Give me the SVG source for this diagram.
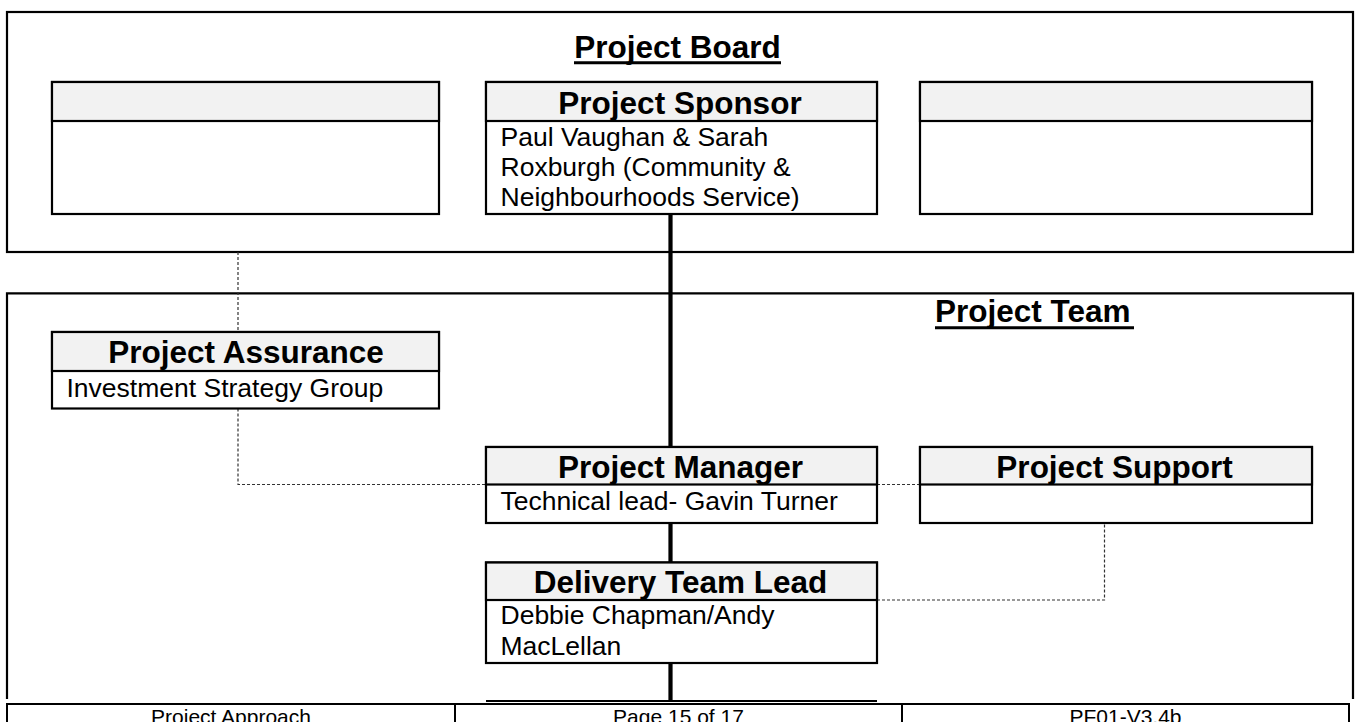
<svg xmlns="http://www.w3.org/2000/svg" width="1357" height="722" viewBox="0 0 1357 722">
<style>
  text { font-family: "Liberation Sans", Arial, sans-serif; fill: #000; }
  .frame { fill: none; stroke: #000; stroke-width: 2.2; }
  .box { fill: #fff; stroke: #000; stroke-width: 2.2; }
  .hdr { fill: #f2f2f2; stroke: #000; stroke-width: 2.2; }
  .title { font-size: 31.5px; font-weight: bold; text-anchor: middle; }
  .group { font-size: 31.5px; font-weight: bold; }
  .body { font-size: 26.5px; }
  .foot { font-size: 21px; text-anchor: middle; }
  .solid { fill: none; stroke: #000; stroke-width: 4.2; }
  .dash { fill: none; stroke: #333; stroke-width: 1.2; stroke-dasharray: 3 2; }
  .uline { stroke: #000; stroke-width: 3; }
</style>
<rect width="1357" height="722" fill="#fff"/>

<g id="project-board-frame">
  <rect class="frame" x="7" y="12" width="1346" height="240"/>
  <text class="title" x="677.5" y="58">Project Board</text>
  <line class="uline" x1="574" y1="62.8" x2="781" y2="62.8"/>
</g>

<g id="project-team-frame">
  <path class="frame" d="M7,699 V293.3 H1353 V699"/>
  <text class="group" x="935" y="322">Project Team</text>
  <line class="uline" x1="935" y1="327.8" x2="1134" y2="327.8"/>
</g>

<g id="connectors">
  <path class="solid" d="M670.5,214 V447 M670.5,523 V562.5 M670.5,663 V701"/>
  <path class="dash" d="M238,252 V332 M238,408.5 V484.5 H486 M877,484.5 H920 M877,600 H1104.5 V523"/>
</g>

<g id="board-left">
  <rect class="box" x="52" y="82" width="387" height="132"/>
  <rect class="hdr" x="52" y="82" width="387" height="39"/>
</g>

<g id="project-sponsor">
  <rect class="box" x="486" y="82" width="391" height="132"/>
  <rect class="hdr" x="486" y="82" width="391" height="39"/>
  <text class="title" x="680" y="113.5">Project Sponsor</text>
  <text class="body" x="500.5" y="146">Paul Vaughan &amp; Sarah</text>
  <text class="body" x="500.5" y="176">Roxburgh (Community &amp;</text>
  <text class="body" x="500.5" y="206">Neighbourhoods Service)</text>
</g>

<g id="board-right">
  <rect class="box" x="920" y="82" width="392" height="132"/>
  <rect class="hdr" x="920" y="82" width="392" height="39"/>
</g>

<g id="project-assurance">
  <rect class="box" x="52" y="332" width="387" height="76.5"/>
  <rect class="hdr" x="52" y="332" width="387" height="39"/>
  <text class="title" x="246" y="362.5">Project Assurance</text>
  <text class="body" x="66.5" y="396.5">Investment Strategy Group</text>
</g>

<g id="project-manager">
  <rect class="box" x="486" y="447" width="391" height="76"/>
  <rect class="hdr" x="486" y="447" width="391" height="37.5"/>
  <text class="title" x="680.5" y="477.5">Project Manager</text>
  <text class="body" x="500.5" y="510">Technical lead- Gavin Turner</text>
</g>

<g id="project-support">
  <rect class="box" x="920" y="447" width="392" height="76"/>
  <rect class="hdr" x="920" y="447" width="392" height="37.5"/>
  <text class="title" x="1114.5" y="477.5">Project Support</text>
</g>

<g id="delivery-team-lead">
  <rect class="box" x="486" y="562.5" width="391" height="100.5"/>
  <rect class="hdr" x="486" y="562.5" width="391" height="37.5"/>
  <text class="title" x="680.5" y="592.5">Delivery Team Lead</text>
  <text class="body" x="500.5" y="624">Debbie Chapman/Andy</text>
  <text class="body" x="500.5" y="654.5">MacLellan</text>
</g>

<g id="next-box-edge">
  <line x1="486" y1="701" x2="877" y2="701" stroke="#000" stroke-width="2"/>
</g>

<g id="footer">
  <rect x="7" y="704" width="1342" height="30" fill="#fff" stroke="#000" stroke-width="2"/>
  <line x1="455" y1="704" x2="455" y2="722" stroke="#000" stroke-width="2"/>
  <line x1="902" y1="704" x2="902" y2="722" stroke="#000" stroke-width="2"/>
  <text class="foot" x="231" y="724">Project Approach</text>
  <text class="foot" x="678.5" y="724">Page 15 of 17</text>
  <text class="foot" x="1125.5" y="724">PF01-V3.4b</text>
</g>
</svg>
